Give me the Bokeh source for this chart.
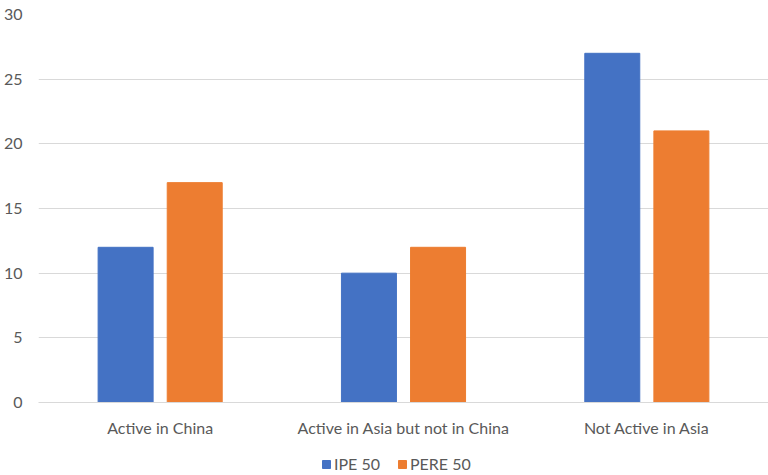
from bokeh.plotting import figure
from bokeh.layouts import column
from bokeh.models import ColumnDataSource, FactorRange, Range1d, Legend, LegendItem
from bokeh.transform import dodge
from bokeh.embed import file_html
from bokeh.resources import INLINE

categories = ["Active in China", "Active in Asia but not in China", "Not Active in Asia"]
ipe50 = [12, 10, 27]
pere50 = [17, 12, 21]
series_names = ["IPE 50", "PERE 50"]
y_ticks = [0, 5, 10, 15, 20, 25, 30]

BLUE = "#4472C4"
ORANGE = "#ED7D31"
TEXT = "#595959"
GRID = "#D9D9D9"
FONT = "Lato"

source = ColumnDataSource(data=dict(cat=categories, ipe=ipe50, pere=pere50))

# main bar chart
p = figure(
    x_range=FactorRange(*categories, range_padding=0),
    y_range=Range1d(0, 30),
    frame_width=730, frame_height=388,
    output_backend="svg", toolbar_location=None,
    min_border_left=38, min_border_right=0, min_border_top=14, min_border_bottom=46,
)
p.outline_line_color = None
p.background_fill_color = "white"
p.border_fill_color = "white"

bw = 0.226
p.vbar(x=dodge("cat", -0.142, range=p.x_range), top="ipe", width=bw, source=source,
       fill_color=BLUE, line_color=BLUE)
p.vbar(x=dodge("cat", 0.142, range=p.x_range), top="pere", width=bw, source=source,
       fill_color=ORANGE, line_color=ORANGE)

# y axis: labels only
p.yaxis.ticker = y_ticks
p.yaxis.axis_line_color = None
p.yaxis.major_tick_line_color = None
p.yaxis.minor_tick_line_color = None
p.yaxis.major_label_text_color = TEXT
p.yaxis.major_label_text_font = FONT
p.yaxis.major_label_text_font_size = "16px"
p.yaxis.major_label_standoff = 10

# x axis: baseline and category labels
p.xaxis.axis_line_color = GRID
p.xaxis.major_tick_line_color = None
p.xaxis.minor_tick_line_color = None
p.xaxis.major_tick_out = 0
p.xaxis.major_label_text_color = TEXT
p.xaxis.major_label_text_font = FONT
p.xaxis.major_label_text_font_size = "16px"
p.xaxis.major_label_standoff = 15

p.xgrid.grid_line_color = None
p.ygrid.grid_line_color = GRID
p.ygrid.grid_line_width = 1

# legend strip underneath the chart; the swatch renderers are zero-size bars
# placed outside the strip's range, so only their legend entries show
leg = figure(
    x_range=Range1d(0, 1), y_range=Range1d(0, 1),
    frame_width=768, frame_height=27,
    output_backend="svg", toolbar_location=None,
    x_axis_location=None, y_axis_location=None,
    min_border=0,
)
leg.outline_line_color = None
leg.xgrid.grid_line_color = None
leg.ygrid.grid_line_color = None
k1 = leg.vbar(x="ipe", top=0, bottom=0, width=0, source=source,
              fill_color=BLUE, line_color=BLUE)
k2 = leg.vbar(x="pere", top=0, bottom=0, width=0, source=source,
              fill_color=ORANGE, line_color=ORANGE)

legend = Legend(
    items=[LegendItem(label=series_names[0], renderers=[k1], index=0),
           LegendItem(label=series_names[1], renderers=[k2], index=0)],
    orientation="horizontal", location=(321, 2),
    label_text_color=TEXT, label_text_font=FONT, label_text_font_size="16px",
    label_height=16, glyph_width=10, glyph_height=10, label_standoff=3, spacing=17,
    border_line_color=None, background_fill_alpha=0,
    padding=2, margin=0,
)
leg.add_layout(legend, "center")

layout = column(p, leg, spacing=0)

open("out.html", "w").write(file_html(layout, INLINE))
